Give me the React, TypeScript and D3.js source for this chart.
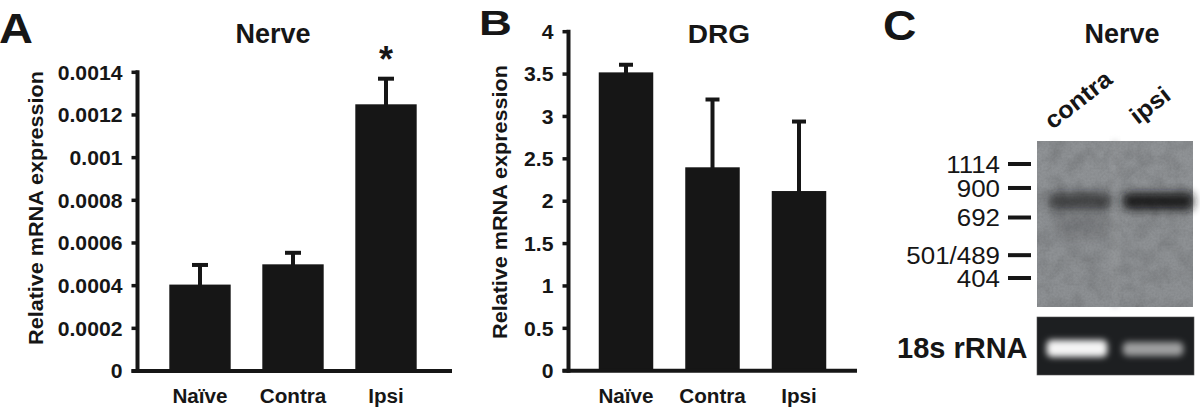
import React from "react";
import * as d3 from "d3";

// ---------- data ----------
const categories = ["Naïve", "Contra", "Ipsi"];
const nerveMean = [0.000405, 0.0005, 0.00125];
const nerveSem = [0.000092, 0.000054, 0.00012];
const nerveSignificant = [false, false, true];
const nerveTicks = [0, 0.0002, 0.0004, 0.0006, 0.0008, 0.001, 0.0012, 0.0014];
const nerveTickLabels = ["0", "0.0002", "0.0004", "0.0006", "0.0008", "0.001", "0.0012", "0.0014"];

const drgMean = [3.52, 2.4, 2.12];
const drgSem = [0.09, 0.8, 0.82];
const drgTicks = [0, 0.5, 1, 1.5, 2, 2.5, 3, 3.5, 4];
const drgTickLabels = ["0", "0.5", "1", "1.5", "2", "2.5", "3", "3.5", "4"];

const lanes = ["contra", "ipsi"];
const markerBp = [1114, 900, 692, 495, 404];
const markerLabels = ["1114", "900", "692", "501/489", "404"];
const bandBp = 800;
const bandIntensity = [0.6, 0.9];
const rrnaIntensity = [1.0, 0.6];

// ---------- style ----------
const FONT = "'Liberation Sans', Arial, Helvetica, sans-serif";
const INK = "#161616";

type TProps = {
  x: number; y: number; size: number; bold?: boolean; anchor?: string;
  sx?: number; rotate?: number; fill?: string; children: React.ReactNode;
};
function T({ x, y, size, bold = true, anchor = "start", sx = 1, rotate = 0, fill = INK, children }: TProps) {
  return (
    <text
      transform={`translate(${x},${y}) rotate(${rotate}) scale(${sx},1)`}
      fontFamily={FONT}
      fontSize={size}
      fontWeight={bold ? "bold" : "normal"}
      textAnchor={anchor}
      fill={fill}
    >
      {children}
    </text>
  );
}

type PanelProps = {
  means: number[]; sems: number[]; sig?: boolean[];
  ticks: number[]; tickLabels: string[];
  yDomain: [number, number]; yRange: [number, number];
  axisX: number; xRange: [number, number]; xAxisEnd: number;
  padInner: number; capW: number; ylabelX: number; ylabelY: number;
};

function BarPanel(p: PanelProps) {
  const y = d3.scaleLinear().domain(p.yDomain).range(p.yRange);
  const x = d3.scaleBand<string>().domain(categories).range(p.xRange)
    .paddingInner(p.padInner).paddingOuter(p.padInner / 2);
  const y0 = y(0);
  const tickLen = 6;
  return (
    <g>
      {categories.map((c, i) => {
        const bx = x(c)!;
        const bw = x.bandwidth();
        const cx = bx + bw / 2;
        const top = y(p.means[i]);
        const etop = y(p.means[i] + p.sems[i]);
        return (
          <g key={c}>
            <rect x={bx} y={top} width={bw} height={y0 - top} fill={INK} />
            <line x1={cx} x2={cx} y1={top + 2} y2={etop} stroke={INK} strokeWidth={4} />
            <line x1={cx - p.capW / 2} x2={cx + p.capW / 2} y1={etop} y2={etop} stroke={INK} strokeWidth={4} />
            <T x={cx} y={403} size={19.5} anchor="middle" sx={1.06}>{c}</T>
            {p.sig && p.sig[i] ? (
              <T x={cx} y={etop - 7} size={36} anchor="middle">*</T>
            ) : null}
          </g>
        );
      })}
      {/* y axis */}
      <line x1={p.axisX} x2={p.axisX} y1={y(p.yDomain[1]) - 2} y2={y0 + 2} stroke={INK} strokeWidth={4} />
      {p.ticks.map((t, i) => (
        <g key={t}>
          <line x1={p.axisX - tickLen} x2={p.axisX} y1={y(t)} y2={y(t)} stroke={INK} strokeWidth={3.5} />
          <T x={p.axisX - 15} y={y(t) + 7.2} size={20} anchor="end" sx={1.06}>{p.tickLabels[i]}</T>
        </g>
      ))}
      {/* x axis */}
      <line x1={p.axisX - tickLen} x2={p.xAxisEnd} y1={y0} y2={y0} stroke={INK} strokeWidth={4} />
      <T x={p.ylabelX} y={p.ylabelY} size={20} anchor="middle" sx={1.08} rotate={-90}>
        Relative mRNA expression
      </T>
    </g>
  );
}

function GelPanel() {
  const gx0 = 1037, gx1 = 1193;
  const markerY = d3.scaleLog().domain([1114, 404]).range([164, 278]);
  const lane = d3.scaleBand<string>().domain(lanes).range([gx0, gx1]).paddingInner(0.15).paddingOuter(0.1);
  const bandY = markerY(bandBp);
  return (
    <g>
      <defs>
        <filter id="grain" x="0" y="0" width="100%" height="100%">
          <feTurbulence type="fractalNoise" baseFrequency="0.06" numOctaves="3" seed="7" result="n" />
          <feColorMatrix in="n" type="matrix"
            values="0 0 0 0 0  0 0 0 0 0  0 0 0 0 0  1.2 0 0 0 -0.45" result="a" />
          <feComposite in="a" in2="SourceGraphic" operator="in" />
        </filter>
        <filter id="grainFine" x="0" y="0" width="100%" height="100%">
          <feTurbulence type="fractalNoise" baseFrequency="0.5" numOctaves="1" seed="2" result="n" />
          <feColorMatrix in="n" type="matrix"
            values="0 0 0 0 0  0 0 0 0 0  0 0 0 0 0  1.0 0 0 0 -0.35" result="a" />
          <feComposite in="a" in2="SourceGraphic" operator="in" />
        </filter>
        <filter id="blurBand" x="-40%" y="-150%" width="180%" height="400%">
          <feGaussianBlur stdDeviation="5 4" />
        </filter>
        <filter id="blurSoft" x="-40%" y="-150%" width="180%" height="400%">
          <feGaussianBlur stdDeviation="3 3" />
        </filter>
        <linearGradient id="gelBg" x1="0" y1="0" x2="0" y2="1">
          <stop offset="0" stopColor="#909396" />
          <stop offset="1" stopColor="#8d9093" />
        </linearGradient>
      </defs>
      <T x={1122} y={43} size={27} anchor="middle">Nerve</T>
      {/* lane labels */}
      {lanes.map((l, i) => (
        <T key={l} x={lane(l)! + (i === 0 ? 8 : 17)} y={i === 0 ? 130 : 125} size={24} sx={1.06} rotate={-38}>{l}</T>
      ))}
      {/* northern blot */}
      <rect x={gx0} y={141} width={gx1 - gx0} height={166} fill="url(#gelBg)" />
      <rect x={1112} y={141} width={6} height={166} fill="#a0a2a4" opacity={0.45} filter="url(#blurSoft)" />
      {lanes.map((l, i) => (
        <rect key={l} x={lane(l)! + (i === 0 ? 4 : 2)} y={bandY - 9} width={lane.bandwidth() - 2 + (i === 1 ? 8 : 0)} height={18}
          rx={6} fill="#141618" opacity={bandIntensity[i]} filter="url(#blurBand)" />
      ))}
      <rect x={lane(lanes[0])! + 8} y={bandY + 12} width={lane.bandwidth() - 10} height={28}
        fill="#303234" opacity={0.15} filter="url(#blurBand)" />
      <rect x={gx0} y={141} width={gx1 - gx0} height={166} fill="#000" filter="url(#grain)" opacity={0.18} />
      <rect x={gx0} y={141} width={gx1 - gx0} height={166} fill="#000" filter="url(#grainFine)" opacity={0.12} />
      {/* markers */}
      {markerBp.map((bp, i) => (
        <g key={bp}>
          <rect x={1008} y={markerY(bp) - 2} width={23} height={4} fill={INK} />
          <T x={1000} y={markerY(bp) + 8.6} size={24} bold={false} anchor="end" sx={1.08}>{markerLabels[i]}</T>
        </g>
      ))}
      {/* 18s rRNA */}
      <rect x={gx0} y={317} width={gx1 - gx0 + 1} height={58} fill="#1d1f21" stroke="#555" strokeWidth={0.6} />
      {lanes.map((l, i) => (
        <rect key={l} x={lane(l)! + 2} y={340 + (i === 1 ? 2 : 0)} width={lane.bandwidth() - 4} height={i === 1 ? 14 : 17}
          rx={5} fill="#f4f4f4" opacity={rrnaIntensity[i]} filter="url(#blurSoft)" />
      ))}
      <T x={897} y={358} size={29}>18s rRNA</T>
    </g>
  );
}

export default function App() {
  return (
    <svg width={1200} height={407} style={{ position: "absolute", left: 0, top: 0, background: "#fff" }}>
      <rect width={1200} height={407} fill="#fff" />
      {/* Panel A */}
      <T x={-1} y={43} size={42} sx={1.12}>A</T>
      <T x={273} y={43} size={27} anchor="middle">Nerve</T>
      <BarPanel
        means={nerveMean} sems={nerveSem} sig={nerveSignificant}
        ticks={nerveTicks} tickLabels={nerveTickLabels}
        yDomain={[0, 0.0014]} yRange={[371, 72.3]}
        axisX={137.5} xRange={[153.5, 432.5]} xAxisEnd={452}
        padInner={0.34} capW={16} ylabelX={43} ylabelY={208}
      />
      {/* Panel B */}
      <T x={479} y={35} size={35} sx={1.3}>B</T>
      <T x={719} y={43} size={26} anchor="middle" sx={1.08}>DRG</T>
      <BarPanel
        means={drgMean} sems={drgSem}
        ticks={drgTicks} tickLabels={drgTickLabels}
        yDomain={[0, 4]} yRange={[370.7, 31.7]}
        axisX={568.5} xRange={[582.75, 842.25]} xAxisEnd={857}
        padInner={0.37} capW={14} ylabelX={507} ylabelY={202}
      />
      {/* Panel C */}
      <T x={883} y={40} size={42} sx={1.1}>C</T>
      <GelPanel />
    </svg>
  );
}
